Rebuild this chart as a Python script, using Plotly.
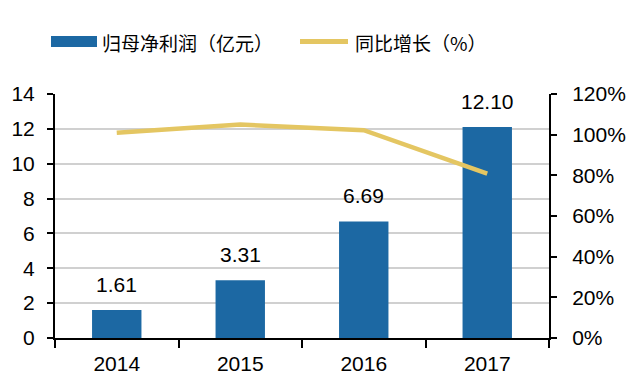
import plotly.graph_objects as go

years = ["2014", "2015", "2016", "2017"]
profit = [1.61, 3.31, 6.69, 12.10]
profit_labels = ["1.61", "3.31", "6.69", "12.10"]
growth = [1.01, 1.05, 1.022, 0.808]

bar_color = "#1C68A3"
line_color = "#E4C662"
font_num = "Arial, Liberation Sans, sans-serif"
font_cjk = "Noto Sans CJK SC, sans-serif"
FS = 21

fig = go.Figure()
fig.add_trace(go.Bar(x=years, y=profit, marker_color=bar_color, width=0.4,
                     marker_line_width=0, name="归母净利润（亿元）", yaxis="y"))
fig.add_trace(go.Scatter(x=years, y=growth, mode="lines", line=dict(color=line_color, width=4.5),
                         name="同比增长（%）", yaxis="y2"))

for i, (v, t) in enumerate(zip(profit, profit_labels)):
    fig.add_annotation(x=i, y=v, xref="x", yref="y", text=t, showarrow=False, yanchor="bottom", yshift=12,
                       font=dict(family=font_num, size=FS, color="#000000"))

# plot area in window pixels: x 55..549, y 94..338 (page has 8px body margin)
W = 494.0
H = 244.0
def px(x):
    return (x - 55) / W
def py(y):
    return (338 - y) / H

fig.add_shape(type="rect", xref="paper", yref="paper", x0=px(51), x1=px(97), y0=py(47), y1=py(36),
              fillcolor=bar_color, line=dict(width=0))
fig.add_shape(type="line", xref="paper", yref="paper", x0=px(300), x1=px(348), y0=py(41.5), y1=py(41.5),
              line=dict(color=line_color, width=5))
fig.add_annotation(xref="paper", yref="paper", x=px(100), y=py(42), text="归母净利润（亿元）",
                   showarrow=False, xanchor="left", yanchor="middle",
                   font=dict(family=font_cjk, size=19, color="#000000"))
fig.add_annotation(xref="paper", yref="paper", x=px(353), y=py(42), text="同比增长（%）",
                   showarrow=False, xanchor="left", yanchor="middle",
                   font=dict(family=font_cjk, size=19, color="#000000"))

fig.update_layout(
    width=640, height=389,
    margin=dict(l=47, r=99, t=86, b=59),
    paper_bgcolor="white", plot_bgcolor="white",
    showlegend=False,
    xaxis=dict(type="category", range=[-0.5, 3.5], showline=True, linecolor="#000000", linewidth=2,
               ticks="outside", tickson="boundaries", ticklen=8, tickwidth=2, tickcolor="#000000",
               ticklabelstandoff=6, automargin=False,
               tickfont=dict(family=font_num, size=FS, color="#000000"), showgrid=False),
    yaxis=dict(range=[0, 14], dtick=2, showline=True, linecolor="#000000", linewidth=2,
               ticks="outside", ticklen=6, tickwidth=2, tickcolor="#000000",
               ticklabelstandoff=8, automargin=False,
               tickfont=dict(family=font_num, size=FS, color="#000000"),
               showgrid=True, gridcolor="#D0D0D0", gridwidth=2, zeroline=False),
    yaxis2=dict(range=[0, 1.2], dtick=0.2, tickformat=".0%", overlaying="y", side="right",
                showline=True, linecolor="#000000", linewidth=2,
                ticks="outside", ticklen=6, tickwidth=2, tickcolor="#000000",
                ticklabelstandoff=11, automargin=False,
                tickfont=dict(family=font_num, size=FS, color="#000000"),
                showgrid=False, zeroline=False),
)

fig.write_html("out.html")
